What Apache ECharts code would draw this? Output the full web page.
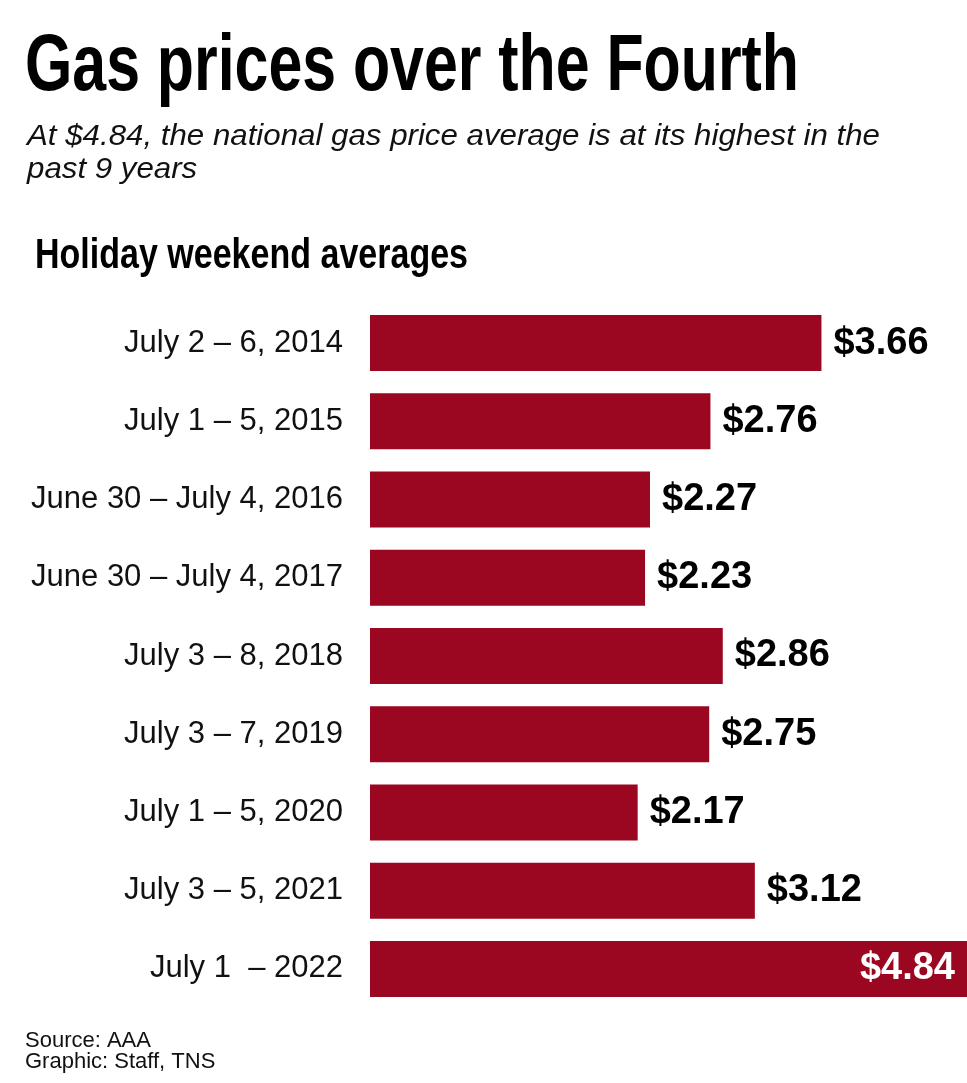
<!DOCTYPE html>
<html>
<head>
<meta charset="utf-8">
<script src="https://cdn.jsdelivr.net/npm/echarts@6/dist/echarts.min.js"></script>
<style>
html,body{margin:0;padding:0;background:#fff;}
#chart{width:967px;height:1083px;}
</style>
</head>
<body>
<div id="chart"></div>
<script>
const categories = [
  "July 2 \u2013 6, 2014",
  "July 1 \u2013 5, 2015",
  "June 30 \u2013 July 4, 2016",
  "June 30 \u2013 July 4, 2017",
  "July 3 \u2013 8, 2018",
  "July 3 \u2013 7, 2019",
  "July 1 \u2013 5, 2020",
  "July 3 \u2013 5, 2021",
  "July 1  \u2013 2022"
];
const prices = [3.66, 2.76, 2.27, 2.23, 2.86, 2.75, 2.17, 3.12, 4.84];
const titleText = "Gas prices over the Fourth";
const subtitleLines = ["At $4.84, the national gas price average is at its highest in the", "past 9 years"];
const headingText = "Holiday weekend averages";
const footerLines = ["Source: AAA", "Graphic: Staff, TNS"];

const BAR = "#9b0620";
const FAMILY = '"Liberation Sans", Arial, Helvetica, sans-serif';

const ctx = document.createElement('canvas').getContext('2d');
function fitScale(text, font, target) {
  ctx.font = font;
  return target / ctx.measureText(text).width;
}
const titleFont = 'bold 80px ' + FAMILY;
const subFont = 'italic 30px ' + FAMILY;
const headFont = 'bold 42px ' + FAMILY;
const footFont = '22px ' + FAMILY;
const titleScale = fitScale(titleText, titleFont, 774);
const subScale = fitScale(subtitleLines[0], subFont, 853);
const headScale = fitScale(headingText, headFont, 433);

const chart = echarts.init(document.getElementById('chart'), null, {renderer: 'canvas'});
const lastIdx = prices.length - 1;
chart.setOption({
  animation: false,
  backgroundColor: '#fff',
  grid: {left: 370, right: 0, top: 304, height: 704, containLabel: false},
  xAxis: {type: 'value', min: 0, max: 4.84, show: false},
  yAxis: {
    type: 'category', data: categories, inverse: true,
    axisLine: {show: false}, axisTick: {show: false}, splitLine: {show: false},
    axisLabel: {margin: 27, fontSize: 31, color: '#111', fontFamily: FAMILY,
                padding: [0, 0, 6, 0]}
  },
  series: [{
    type: 'bar',
    barWidth: 56,
    data: prices.map((v, i) => i === lastIdx ? {
      value: v,
      label: {position: 'insideRight', color: '#fff', distance: 12}
    } : v),
    itemStyle: {color: BAR},
    label: {
      show: true, position: 'right', distance: 12,
      formatter: p => '$' + p.value.toFixed(2),
      fontFamily: FAMILY, fontWeight: 'bold', fontSize: 38, color: '#000'
    }
  }],
  graphic: [
    {type: 'text', x: 25, y: 28, scaleX: titleScale,
     style: {text: titleText, font: titleFont, fill: '#000', verticalAlign: 'top'}},
    {type: 'text', x: 27, y: 122, scaleX: subScale,
     style: {text: subtitleLines[0], font: subFont, fill: '#111', verticalAlign: 'top'}},
    {type: 'text', x: 27, y: 155, scaleX: subScale,
     style: {text: subtitleLines[1], font: subFont, fill: '#111', verticalAlign: 'top'}},
    {type: 'text', x: 35, y: 235, scaleX: headScale,
     style: {text: headingText, font: headFont, fill: '#000', verticalAlign: 'top'}},
    {type: 'text', x: 25, y: 1030,
     style: {text: footerLines[0], font: footFont, fill: '#111', verticalAlign: 'top'}},
    {type: 'text', x: 25, y: 1051,
     style: {text: footerLines[1], font: footFont, fill: '#111', verticalAlign: 'top'}}
  ]
});
</script>
</body>
</html>
